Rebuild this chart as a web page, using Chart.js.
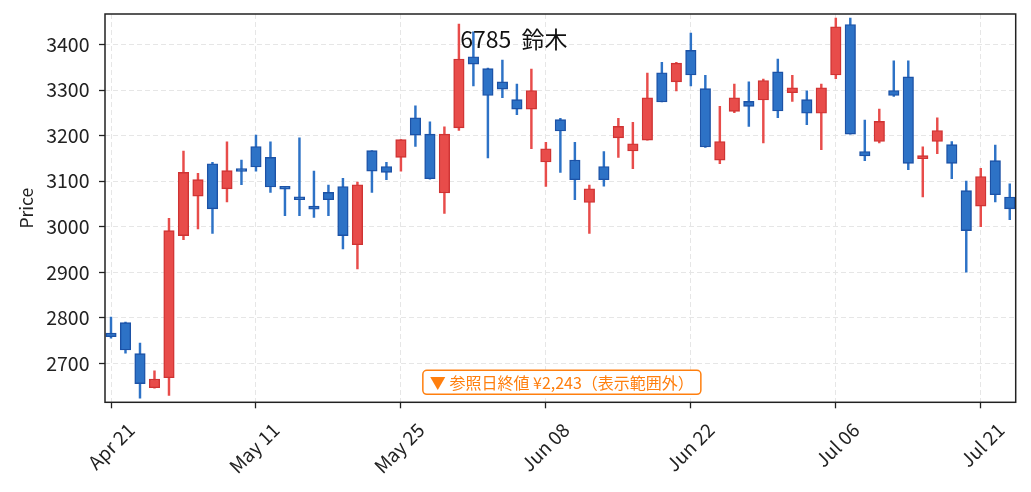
<!DOCTYPE html>
<html><head><meta charset="utf-8">
<script src="https://cdn.jsdelivr.net/npm/chart.js@4.4.1/dist/chart.umd.min.js"></script>
<style>html,body{margin:0;padding:0;background:#fff}#wrap{width:1031px;height:492px;position:relative}</style>
</head><body><div id="wrap"><canvas id="c"></canvas></div>
<script>
const dates = ["Apr 21","Apr 22","Apr 23","Apr 24","Apr 27","Apr 28","Apr 30",
"May 01","May 07","May 08","May 11","May 12","May 13","May 14","May 15","May 18","May 19","May 20","May 21","May 22","May 25","May 26","May 27","May 28","May 29",
"Jun 01","Jun 02","Jun 03","Jun 04","Jun 05","Jun 08","Jun 09","Jun 10","Jun 11","Jun 12","Jun 15","Jun 16","Jun 17","Jun 18","Jun 19","Jun 22","Jun 23","Jun 24","Jun 25","Jun 26","Jun 29","Jun 30",
"Jul 01","Jul 02","Jul 03","Jul 06","Jul 07","Jul 08","Jul 09","Jul 10","Jul 13","Jul 14","Jul 15","Jul 16","Jul 17","Jul 21","Jul 22","Jul 23"];
const opens = [2766,2789,2721,2646,2668,2980,3067,3138,3083,3124,3176,3152,3084,3064,3045,3075,3088,2960,3167,3132,3152,3239,3203,3074,3217,3373,3347,3318,3279,3258,3142,3235,3146,3053,3132,3195,3166,3190,3338,3318,3387,3303,3146,3253,3275,3278,3340,3294,3279,3249,3333,3444,3165,3187,3299,3329,3149,3187,3180,3079,3045,3145,3065];
const closes = [2758,2729,2655,2665,2991,3119,3103,3039,3123,3121,3131,3087,3082,3059,3038,3059,2980,3092,3122,3119,3191,3201,3105,3203,3368,3357,3288,3302,3258,3299,3171,3210,3103,3083,3103,3220,3182,3283,3274,3359,3333,3175,3187,3283,3264,3321,3254,3305,3249,3305,3439,3203,3155,3231,3288,3139,3156,3211,3139,2991,3110,3070,3039];
const highs = [2801,2790,2744,2683,3018,3166,3117,3141,3186,3146,3201,3186,3086,3195,3122,3091,3106,3098,3167,3141,3191,3265,3230,3219,3445,3428,3348,3366,3313,3346,3185,3238,3185,3091,3165,3238,3229,3337,3361,3361,3425,3332,3264,3313,3318,3324,3368,3332,3298,3313,3458,3458,3234,3258,3364,3364,3175,3239,3187,3100,3128,3179,3094];
const lows = [2755,2722,2623,2645,2629,2971,2995,2985,3054,3092,3122,3075,3024,3024,3020,3024,2951,2907,3075,3103,3122,3176,3104,3029,3211,3309,3151,3283,3246,3171,3088,3119,3059,2985,3089,3152,3127,3190,3274,3298,3309,3174,3138,3250,3220,3184,3239,3275,3224,3169,3325,3203,3145,3184,3286,3125,3065,3160,3105,2900,3000,3054,3015];
const xTickIdx = [0,10,20,30,40,50,60];
const yTicks = [2700,2800,2900,3000,3100,3200,3300,3400];
const titleText = "6785  鈴木";
const noteText = "▼ 参照日終値 ¥2,243（表示範囲外）";

const FONT = "'Noto Sans CJK JP','Noto Sans',sans-serif";
const UP_FILL = '#e84c4a', UP_EDGE = '#cf3333', UP_WICK = '#e84c4a';
const DN_FILL = '#2d72c6', DN_EDGE = '#1c52a6', DN_WICK = '#2d72c6';
const isUp = i => closes[i] >= opens[i];

const overlay = {
  id: 'overlay',
  afterDraw(chart) {
    const {ctx, chartArea: a} = chart;
    ctx.save();
    ctx.strokeStyle = '#222';
    ctx.lineWidth = 1.5;
    ctx.strokeRect(a.left, a.top, a.right - a.left, a.bottom - a.top);
    // title
    ctx.fillStyle = '#111';
    ctx.font = "23px " + FONT;
    ctx.textAlign = 'center';
    ctx.textBaseline = 'middle';
    ctx.fillText(titleText, a.left + (a.right - a.left) * 0.449, a.top + 25);
    // note
    ctx.font = "16px " + FONT;
    const w = ctx.measureText(noteText).width + 14;
    const h = 24;
    const cx = (a.left + a.right) / 2 + 1.5;
    const by = a.bottom - 8 - h;
    ctx.beginPath();
    ctx.roundRect(cx - w / 2, by, w, h, 4);
    ctx.fillStyle = '#fff';
    ctx.fill();
    ctx.strokeStyle = '#ff7f0e';
    ctx.lineWidth = 1.5;
    ctx.stroke();
    ctx.fillStyle = '#ff7f0e';
    ctx.fillText(noteText, cx, by + h / 2 + 0.5);
    ctx.restore();
  }
};

new Chart(document.getElementById('c'), {
  type: 'bar',
  data: {
    datasets: [
      {
        label: 'body',
        order: 0,
        data: dates.map((d, i) => ({x: i, y: [opens[i], closes[i]]})),
        backgroundColor: dates.map((d, i) => isUp(i) ? UP_FILL : DN_FILL),
        borderColor: dates.map((d, i) => isUp(i) ? UP_EDGE : DN_EDGE),
        borderWidth: 1.4,
        borderSkipped: false,
        barThickness: 10.5,
        minBarLength: 3,
        grouped: false
      },
      {
        label: 'wick',
        order: 1,
        data: dates.map((d, i) => ({x: i, y: [lows[i], highs[i]]})),
        backgroundColor: dates.map((d, i) => isUp(i) ? UP_WICK : DN_WICK),
        borderWidth: 0,
        barThickness: 1.8,
        grouped: false
      }
    ]
  },
  options: {
    responsive: true,
    maintainAspectRatio: false,
    animation: false,
    devicePixelRatio: 1,
    layout: {padding: {top: 14, right: 15.3, left: 0, bottom: 0}},
    plugins: {legend: {display: false}, tooltip: {enabled: false}, title: {display: false}},
    scales: {
      x: {
        type: 'linear',
        offset: false,
        min: -0.414,
        max: 62.41,
        afterBuildTicks: s => { s.ticks = xTickIdx.map(v => ({value: v})); },
        afterFit: s => { s.height = 89.7; s.paddingLeft = 0; s.paddingRight = 0; },
        grid: {offset: false, color: '#e6e6e6', lineWidth: 1, tickColor: '#222', tickLength: 6, tickWidth: 1.3, tickBorderDash: []},
        border: {display: false, dash: [5, 3]},
        ticks: {
          autoSkip: false, maxRotation: 45, minRotation: 45,
          color: '#222', font: {family: FONT, size: 19}, padding: 10, labelOffset: 20,
          callback: v => dates[v]
        }
      },
      y: {
        min: 2614,
        max: 3467,
        afterBuildTicks: s => { s.ticks = yTicks.map(v => ({value: v})); },
        afterFit: s => { s.width = 105; s.paddingTop = 0; s.paddingBottom = 0; },
        grid: {color: '#e6e6e6', lineWidth: 1, tickColor: '#222', tickLength: 6, tickWidth: 1.3, tickBorderDash: []},
        border: {display: false, dash: [5, 3]},
        ticks: {color: '#222', font: {family: FONT, size: 19.5}, padding: 9.5, callback: v => String(v)},
        title: {display: true, text: 'Price', color: '#222', font: {family: FONT, size: 17.5}, padding: {top: 16, bottom: 0}}
      }
    }
  },
  plugins: [overlay]
});
</script></body></html>
